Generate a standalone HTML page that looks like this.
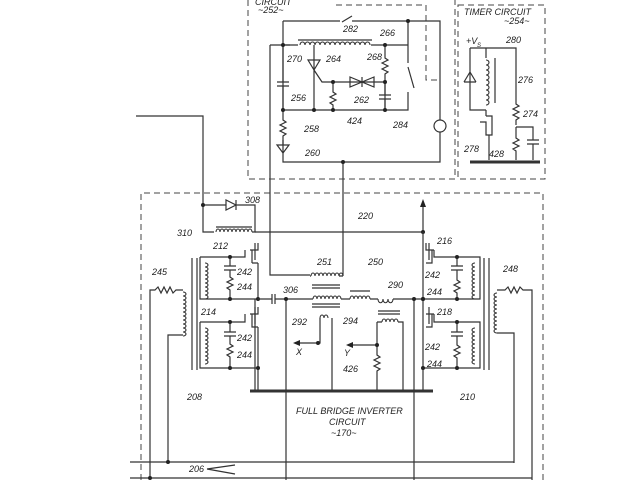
<!DOCTYPE html>
<html><head><meta charset="utf-8"><style>
html,body{margin:0;padding:0;background:#fff;}
svg{display:block;}
text{font-family:"Liberation Sans",sans-serif;font-style:italic;font-size:9px;fill:#222;}
.l{stroke:#333;stroke-width:1.2;fill:none;}
.d{stroke:#444;stroke-width:1;fill:none;stroke-dasharray:6,4;}
.c{stroke:#333;stroke-width:1.1;fill:none;}
</style></head><body>
<svg width="640" height="480" viewBox="0 0 640 480" xmlns="http://www.w3.org/2000/svg">
<path class="d" d="M248 0 V179 H455 V0"/>
<path class="d" d="M458 5 H545 V179 H458 Z"/>
<path class="d" d="M141 480 V193 H543 V480"/>
<path class="d" d="M336 5 H426 V80 H440"/>
<text x="255" y="5">CIRCUIT</text><text x="258" y="13">~252~</text>
<text x="464" y="15">TIMER CIRCUIT</text><text x="504" y="24">~254~</text>

<path class="l" d="M283 21 H340 M352 16 L342 22 M352 21 H408 M408 21 V63 M408 67 L414 88 M408 92 V110 H283 V45 V21 M283 45 H298 M371 45 H408 M408 21 H440 V120 M440 132 V162 H283 V140"/>
<path class="c" d="M300 45 a2.5 3 0 0 1 5 0 a2.5 3 0 0 1 5 0 a2.5 3 0 0 1 5 0 a2.5 3 0 0 1 5 0 a2.5 3 0 0 1 5 0 a2.5 3 0 0 1 5 0 a2.5 3 0 0 1 5 0 a2.5 3 0 0 1 5 0 a2.5 3 0 0 1 5 0 a2.5 3 0 0 1 5 0 a2.5 3 0 0 1 5 0 a2.5 3 0 0 1 5 0 a2.5 3 0 0 1 5 0 a2.5 3 0 0 1 5 0"/>
<path class="l" d="M298 40 H372" stroke-width="2"/>
<circle cx="440" cy="126" r="6" class="l"/>
<path class="l" d="M283 45 V82 M277 82 H289 M277 86 H289 M283 86 V110"/>
<path class="l" d="M314 45 V110 M308 60 L320 60 L314 70 Z M314 70 L322 82 H385 V110"/>
<path class="l" d="M350 77 L362 82 L350 87 Z M374 77 L362 82 L374 87 Z M362 77 V87"/>
<path class="l" d="M385 45 V58 l3 2 -6 3 6 3 -6 3 6 3 -3 2 V95 M379 95 H391 M379 99 H391 M385 99 V110"/>
<path class="l" d="M333 82 V92 l3 2 -6 3 6 3 -6 3 3 2 V110"/>
<path class="l" d="M283 110 V120 l3 2 -6 3 6 3 -6 3 6 3 -3 2 V145 M277 145 H289 L283 153 Z"/>
<path class="l" d="M343 162 V276"/>
<path class="l" d="M270 45 H290 M270 45 V275 H310"/>
<g fill="#222"><circle cx="283" cy="45" r="2"/><circle cx="408" cy="21" r="2"/><circle cx="385" cy="45" r="2"/><circle cx="333" cy="82" r="2"/><circle cx="385" cy="82" r="2"/><circle cx="283" cy="110" r="2"/><circle cx="314" cy="110" r="2"/><circle cx="333" cy="110" r="2"/><circle cx="385" cy="110" r="2"/><circle cx="343" cy="162" r="2"/></g>
<text x="343" y="32">282</text><text x="380" y="36">266</text><text x="287" y="62">270</text><text x="326" y="62">264</text><text x="367" y="60">268</text><text x="291" y="101">256</text><text x="354" y="103">262</text><text x="347" y="124">424</text><text x="393" y="128">284</text><text x="304" y="132">258</text><text x="305" y="156">260</text>

<text x="466" y="44">+V</text><text x="477" y="47" style="font-size:6px">S</text><text x="506" y="43">280</text><text x="518" y="83">276</text><text x="523" y="117">274</text><text x="464" y="152">278</text><text x="489" y="157">428</text>
<path class="l" d="M470 48 V110 H486 M470 48 H516 V100 M486 48 V58 M486 110 V116 M464 82 H476 M464 82 L470 72 L476 82 M486 116 H492 V135 H486 V122 H480 M516 100 V104 l3 2 -6 3 6 3 -6 3 6 3 -3 2 V125 M516 127 H533 V140 M527 140 H539 M527 144 H539 M533 144 V160 M516 127 V138 l3 2 -6 3 6 3 -6 3 3 2 V160 M489 135 V160"/>
<path class="c" d="M486 60 a3 2.5 0 0 1 0 5 a3 2.5 0 0 1 0 5 a3 2.5 0 0 1 0 5 a3 2.5 0 0 1 0 5 a3 2.5 0 0 1 0 5 a3 2.5 0 0 1 0 5 a3 2.5 0 0 1 0 5 a3 2.5 0 0 1 0 5 a3 2.5 0 0 1 0 5"/>
<path class="l" d="M495 58 V103" stroke-width="1.6"/>
<path d="M470 162 H540" stroke="#333" stroke-width="3"/>

<path class="l" d="M136 116 H203 V232 H214 M203 205 H226 M236 200 V210 M236 205 L226 200 V210 Z M236 205 H255 V232 H252"/>
<circle cx="203" cy="205" r="2" fill="#222"/>
<path class="l" d="M216 227 H252" stroke-width="2"/>
<path class="c" d="M216 232 a2 3 0 0 1 4 0 a2 3 0 0 1 4 0 a2 3 0 0 1 4 0 a2 3 0 0 1 4 0 a2 3 0 0 1 4 0 a2 3 0 0 1 4 0 a2 3 0 0 1 4 0 a2 3 0 0 1 4 0 a2 3 0 0 1 4 0"/>
<text x="245" y="203">308</text><text x="177" y="236">310</text><text x="358" y="219">220</text>
<path class="l" d="M255 232 H423 M423 232 V205"/>
<path d="M420 207 L423 199 L426 207 Z" fill="#222"/>

<path class="l" d="M258 243 V250 H250 M255 243 V260 M258 250 H252 V263 M252 263 H258 M258 263 V299 M255 299 V390"/>
<path class="l" d="M258 307 V314 H250 M255 307 V324 M252 314 V327 H258 M258 327 V390"/>
<path class="l" d="M200 257 H245 V250 M200 257 V299 H258 M230 257 V266 M224 266 H236 M224 270 H236 M230 270 V277 l3 2 -6 3 6 3 -6 3 3 2 V299"/>
<path class="l" d="M200 322 H245 V314 M200 322 V368 H258 M230 322 V332 M224 332 H236 M224 336 H236 M230 336 V344 l3 2 -6 3 6 3 -6 3 3 2 V368"/>
<path class="c" d="M205 263 a3 2 0 0 1 0 4 a3 2 0 0 1 0 4 a3 2 0 0 1 0 4 a3 2 0 0 1 0 4 a3 2 0 0 1 0 4 a3 2 0 0 1 0 4 a3 2 0 0 1 0 4 a3 2 0 0 1 0 4 a3 2 0 0 1 0 4"/>
<path class="c" d="M205 328 a3 2 0 0 1 0 4 a3 2 0 0 1 0 4 a3 2 0 0 1 0 4 a3 2 0 0 1 0 4 a3 2 0 0 1 0 4 a3 2 0 0 1 0 4 a3 2 0 0 1 0 4 a3 2 0 0 1 0 4 a3 2 0 0 1 0 4"/>
<path class="l" d="M192 258 V370 M197 258 V370"/>
<g fill="#222"><circle cx="230" cy="257" r="2"/><circle cx="230" cy="299" r="2"/><circle cx="258" cy="299" r="2"/><circle cx="230" cy="322" r="2"/><circle cx="230" cy="368" r="2"/><circle cx="258" cy="368" r="2"/></g>
<text x="213" y="249">212</text><text x="237" y="275">242</text><text x="237" y="290">244</text><text x="201" y="315">214</text><text x="237" y="341">242</text><text x="237" y="358">244</text>
<text x="152" y="275">245</text><text x="187" y="400">208</text>
<path class="l" d="M150 478 V290 H155 l3 -3 3 6 3 -6 3 6 3 -6 3 6 3 -3 H183"/>
<path class="c" d="M183 292 a3 2 0 0 1 0 4 a3 2 0 0 1 0 4 a3 2 0 0 1 0 4 a3 2 0 0 1 0 4 a3 2 0 0 1 0 4 a3 2 0 0 1 0 4 a3 2 0 0 1 0 4 a3 2 0 0 1 0 4 a3 2 0 0 1 0 4 a3 2 0 0 1 0 4 a3 2 0 0 1 0 4"/>
<path class="l" d="M183 335 H168 V462"/>

<path class="l" d="M258 299 H272 M272 294 V304 M275 294 V304 M275 299 H313 M341 299 H350 M370 299 H378 M393 299 H423"/>
<text x="283" y="293">306</text>
<path class="c" d="M313 299 a2 3 0 0 1 4 0 a2 3 0 0 1 4 0 a2 3 0 0 1 4 0 a2 3 0 0 1 4 0 a2 3 0 0 1 4 0 a2 3 0 0 1 4 0 a2 3 0 0 1 4 0"/>
<path class="c" d="M311 276 a2 3 0 0 1 4 0 a2 3 0 0 1 4 0 a2 3 0 0 1 4 0 a2 3 0 0 1 4 0 a2 3 0 0 1 4 0 a2 3 0 0 1 4 0 a2 3 0 0 1 4 0 a2 3 0 0 1 4 0"/>
<path class="l" d="M310 276 H311 M339 276 H343"/>
<path class="l" d="M312 285 H340 M312 288 H340 M312 304 H340 M312 307 H340"/>
<path class="c" d="M320 318 a2 3 0 0 1 4 0 a2 3 0 0 1 4 0"/>
<path class="l" d="M320 318 V343 H300 M332 318 V390"/>
<path d="M300 340 L293 343 L300 346 Z" fill="#222"/><circle cx="318" cy="343" r="2" fill="#222"/>
<path class="c" d="M350 299 a2 3 0 0 1 4 0 a2 3 0 0 1 4 0 a2 3 0 0 1 4 0 a2 3 0 0 1 4 0 a2 3 0 0 1 4 0"/>
<path class="l" d="M350 291 H370"/>
<path class="c" d="M378 299 a2 -3 0 0 0 5 0 a2 -3 0 0 0 5 0 a2 -3 0 0 0 5 0"/>
<path class="l" d="M378 311 H400 M378 314 H400"/>
<path class="c" d="M382 322 a2 3 0 0 1 4 0 a2 3 0 0 1 4 0 a2 3 0 0 1 4 0 a2 3 0 0 1 4 0"/>
<path class="l" d="M377 322 H382 M398 322 H403 V390 M377 322 V345 H353 M377 345 V355 l3 2 -6 3 6 3 -6 3 6 3 -3 2 V390"/>
<path d="M353 342 L346 345 L353 348 Z" fill="#222"/><circle cx="377" cy="345" r="2" fill="#222"/>
<text x="296" y="355">X</text><text x="344" y="356">Y</text>
<text x="317" y="265">251</text><text x="368" y="265">250</text><text x="388" y="288">290</text><text x="292" y="325">292</text><text x="343" y="324">294</text><text x="343" y="372">426</text>
<path d="M250 391 H433" stroke="#333" stroke-width="3"/>
<path class="l" d="M286 299 V480 M414 299 V480"/>
<g fill="#222"><circle cx="286" cy="299" r="2"/><circle cx="414" cy="299" r="2"/><circle cx="423" cy="299" r="2"/><circle cx="423" cy="232" r="2"/></g>
<text x="296" y="414">FULL BRIDGE INVERTER</text><text x="329" y="425">CIRCUIT</text><text x="331" y="436">~170~</text>

<path class="l" d="M423 232 V390 M426 243 V250 H434 M429 243 V260 M426 263 H432 V250 M423 307 V314 M426 314 H434 M429 307 V324 M426 327 H432 V314"/>
<path class="l" d="M434 250 V257 H480 V299 H423 M457 257 V266 M451 266 H463 M451 270 H463 M457 270 V280 l3 2 -6 3 6 3 -6 3 3 2 V299"/>
<path class="l" d="M434 314 V322 H480 V368 H423 M457 322 V332 M451 332 H463 M451 336 H463 M457 336 V345 l3 2 -6 3 6 3 -6 3 3 2 V368"/>
<path class="c" d="M475 263 a3 2 0 0 0 0 4 a3 2 0 0 0 0 4 a3 2 0 0 0 0 4 a3 2 0 0 0 0 4 a3 2 0 0 0 0 4 a3 2 0 0 0 0 4 a3 2 0 0 0 0 4 a3 2 0 0 0 0 4 a3 2 0 0 0 0 4"/>
<path class="c" d="M475 328 a3 2 0 0 0 0 4 a3 2 0 0 0 0 4 a3 2 0 0 0 0 4 a3 2 0 0 0 0 4 a3 2 0 0 0 0 4 a3 2 0 0 0 0 4 a3 2 0 0 0 0 4 a3 2 0 0 0 0 4 a3 2 0 0 0 0 4"/>
<path class="l" d="M484 258 V370 M489 258 V370"/>
<g fill="#222"><circle cx="457" cy="257" r="2"/><circle cx="457" cy="299" r="2"/><circle cx="423" cy="299" r="2"/><circle cx="457" cy="322" r="2"/><circle cx="457" cy="368" r="2"/><circle cx="423" cy="368" r="2"/></g>
<text x="437" y="244">216</text><text x="425" y="278">242</text><text x="427" y="295">244</text><text x="437" y="315">218</text><text x="425" y="350">242</text><text x="427" y="367">244</text>
<text x="503" y="272">248</text><text x="460" y="400">210</text>
<path class="c" d="M497 293 a3 2 0 0 0 0 4 a3 2 0 0 0 0 4 a3 2 0 0 0 0 4 a3 2 0 0 0 0 4 a3 2 0 0 0 0 4 a3 2 0 0 0 0 4 a3 2 0 0 0 0 4 a3 2 0 0 0 0 4 a3 2 0 0 0 0 4 a3 2 0 0 0 0 4"/>
<path class="l" d="M497 290 H505 l3 -3 3 6 3 -6 3 6 3 -6 3 3 H532 V480 M497 333 H514 V463"/>

<path class="l" d="M130 462 H514 M130 478 H532"/>
<circle cx="168" cy="462" r="2" fill="#222"/><circle cx="150" cy="478" r="2" fill="#222"/>
<text x="189" y="472">206</text>
<path class="l" d="M207 469 L235 465 M207 469 L235 474"/>
</svg>
</body></html>
